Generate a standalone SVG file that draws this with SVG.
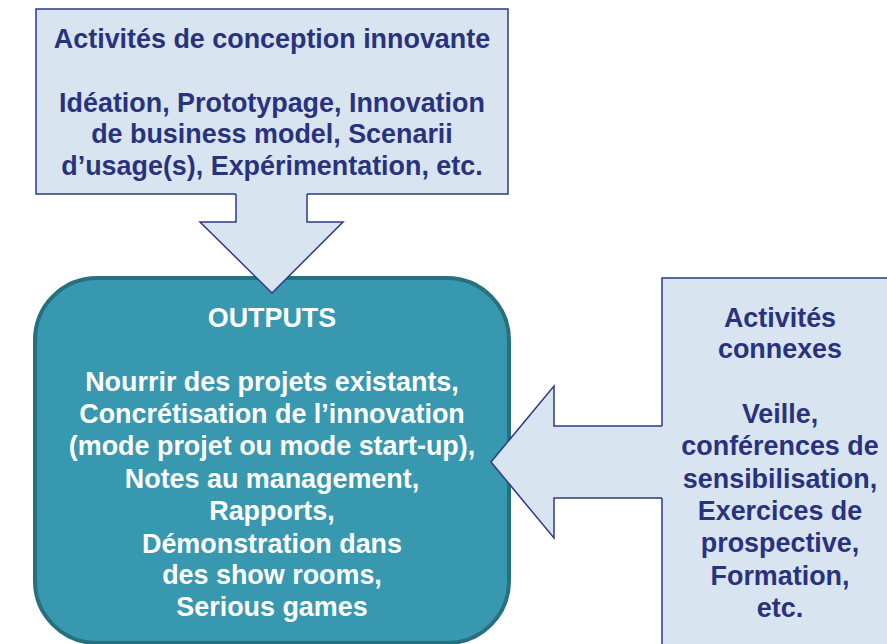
<svg xmlns="http://www.w3.org/2000/svg" width="887" height="644" viewBox="0 0 887 644">
<style>
.box{fill:#d9e4f1;stroke:#2e3a87;stroke-width:1.5}
.af{fill:#d9e4f1;stroke:none}
.as{fill:none;stroke:#2e3a87;stroke-width:1.5;stroke-linejoin:miter}
.out{fill:#3798b0;stroke:#27707f;stroke-width:4}
text{font-family:"Liberation Sans",Arial,sans-serif;font-weight:bold;font-size:26.9px;text-anchor:middle}
.dk{fill:#29337d}
.wh{fill:#ffffff}
</style>
<rect width="887" height="644" fill="#ffffff"/>
<g id="conception">
<rect class="box" x="36" y="9" width="472" height="185"/>
<text class="dk" x="272" y="48">Activités de conception innovante</text>
<text class="dk" x="272" y="112">Idéation, Prototypage, Innovation</text>
<text class="dk" x="272" y="143">de business model, Scenarii</text>
<text class="dk" x="272" y="175">d’usage(s), Expérimentation, etc.</text>
</g>
<g id="outputs">
<rect class="out" x="35" y="278" width="474" height="365" rx="62" ry="62"/>
<text class="wh" x="272" y="327">OUTPUTS</text>
<text class="wh" x="272" y="391">Nourrir des projets existants,</text>
<text class="wh" x="272" y="423">Concrétisation de l’innovation</text>
<text class="wh" x="272" y="455">(mode projet ou mode start-up),</text>
<text class="wh" x="272" y="488">Notes au management,</text>
<text class="wh" x="272" y="520">Rapports,</text>
<text class="wh" x="272" y="553">Démonstration dans</text>
<text class="wh" x="272" y="584">des show rooms,</text>
<text class="wh" x="272" y="616">Serious games</text>
</g>
<g id="connexes">
<rect class="box" x="662" y="278" width="240" height="380"/>
<text class="dk" x="780" y="327">Activités</text>
<text class="dk" x="780" y="358">connexes</text>
<text class="dk" x="780" y="423">Veille,</text>
<text class="dk" x="780" y="455">conférences de</text>
<text class="dk" x="780" y="488">sensibilisation,</text>
<text class="dk" x="780" y="520">Exercices de</text>
<text class="dk" x="780" y="552">prospective,</text>
<text class="dk" x="780" y="585">Formation,</text>
<text class="dk" x="780" y="617">etc.</text>
</g>
<g id="connectors">
<path class="af" d="M236,192.5 V222 H200 L272,293 L343,222 H307 V192.5 Z"/>
<path class="as" d="M236,194 V222 H200 L272,293 L343,222 H307 V194"/>
<path class="af" d="M663.5,426 H554 V386 L491,462 L554,538 V498 H663.5 Z"/>
<path class="as" d="M662,426 H554 V386 L491,462 L554,538 V498 H662"/>
</g>
</svg>
